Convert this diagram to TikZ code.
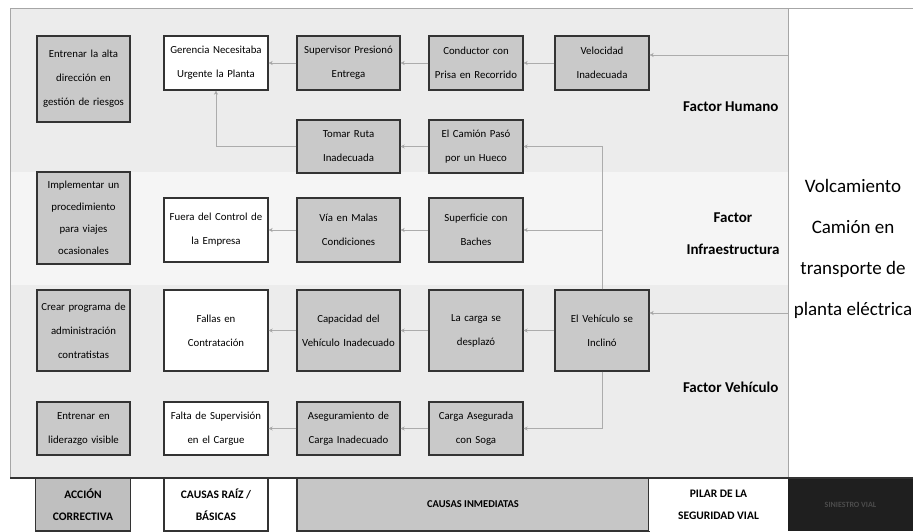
\documentclass[tikz,border=0pt]{standalone}
\usepackage{fontspec}
\setmainfont{Carlito}
\usetikzlibrary{arrows.meta}

\begin{document}
\begin{tikzpicture}[x=1pt,y=-1pt,
  caja/.style={draw=black!80,line width=1.4pt,fill=gray!42,align=center,
    font=\fontsize{10.8}{24}\selectfont,inner sep=1pt},
  raiz/.style={caja,fill=white},
  colA/.style={minimum width=93pt,text width=91pt},
  colB/.style={minimum width=104pt,text width=102pt},
  colC/.style={minimum width=103pt,text width=101pt},
  colD/.style={minimum width=94pt,text width=92pt},
  flecha/.style={draw=gray!65,line width=0.8pt,-{Stealth[length=4pt,width=4pt,fill=black!75]}},
  factor/.style={font=\fontsize{15}{32}\selectfont\bfseries,align=center},
  pie/.style={draw=black!80,line width=1.2pt,font=\fontsize{11.5}{22}\selectfont\bfseries,
    align=center,inner sep=0pt,minimum height=53pt}]
\useasboundingbox (0,0) rectangle (913,531);
\fill[white] (0,0) rectangle (913,531);
\fill[gray!15] (10,8) rectangle (788,478);
\fill[gray!8] (10,172) rectangle (788,285);
\draw[gray!70,line width=1pt] (10,478) -- (10,8) -- (913,8);
\draw[gray!70,line width=1pt] (788,8) -- (788,478);

\node[caja,colA,minimum height=86pt] (ac1) at (83.5,79) {Entrenar la alta\\dirección en\\gestión de riesgos};
\node[caja,colA,minimum height=92pt,font=\fontsize{10.8}{22}\selectfont] (ac2) at (83.5,218) {Implementar un\\procedimiento\\para viajes\\ocasionales};
\node[caja,colA,minimum height=81pt] (ac3) at (83.5,330.5) {Crear programa de\\administración\\contratistas};
\node[caja,colA,minimum height=53pt] (ac4) at (83.5,428.5) {Entrenar en\\liderazgo visible};

\node[raiz,colB,minimum height=54pt] (r1) at (216,63) {Gerencia Necesitaba\\Urgente la Planta};
\node[raiz,colB,minimum height=64pt] (r2) at (216,230) {Fuera del Control de\\la Empresa};
\node[raiz,colB,minimum height=81pt] (r3) at (216,330.5) {Fallas en\\Contratación};
\node[raiz,colB,minimum height=53pt] (r4) at (216,428.5) {Falta de Supervisión\\en el Cargue};

\node[caja,colC,minimum height=54pt] (i1) at (348.5,63) {Supervisor Presionó\\Entrega};
\node[caja,colC,minimum height=53pt] (i2) at (348.5,146.5) {Tomar Ruta\\Inadecuada};
\node[caja,colC,minimum height=64pt] (i3) at (348.5,230) {Vía en Malas\\Condiciones};
\node[caja,colC,minimum height=81pt] (i4) at (348.5,330.5) {Capacidad del\\Vehículo Inadecuado};
\node[caja,colC,minimum height=53pt] (i5) at (348.5,428.5) {Aseguramiento de\\Carga Inadecuado};

\node[caja,colD,minimum height=54pt] (c1) at (476,63) {Conductor con\\Prisa en Recorrido};
\node[caja,colD,minimum height=53pt] (c2) at (476,146.5) {El Camión Pasó\\por un Hueco};
\node[caja,colD,minimum height=64pt] (c3) at (476,230) {Superficie con\\Baches};
\node[caja,colD,minimum height=81pt] (c4) at (476,330.5) {La carga se\\desplazó};
\node[caja,colD,minimum height=53pt] (c5) at (476,428.5) {Carga Asegurada\\con Soga};

\node[caja,colD,minimum height=54pt] (v1) at (602,63) {Velocidad\\Inadecuada};
\node[caja,colD,minimum height=81pt] (v2) at (602,330.5) {El Vehículo se\\Inclinó};

\node[factor,anchor=east] (fh) at (782,107) {Factor Humano};
\node[factor] (fi) at (733,234) {Factor\\Infraestructura};
\node[factor,anchor=east] (fv) at (782,387) {Factor Vehículo};

\node[font=\fontsize{19}{41}\selectfont,align=center] (ev) at (853,249) {Volcamiento\\Camión en\\transporte de\\planta eléctrica};

\coordinate (eh) at (788,55);
\coordinate (ee) at (788,313);
\draw[flecha] (eh) -- (eh -| v1.east);
\draw[flecha] (v1) -- (c1);
\draw[flecha] (c1) -- (i1);
\draw[flecha] (i1) -- (r1);
\draw[flecha] (c2) -- (i2);
\draw[flecha] (i2.west) -| (r1.south);
\draw[flecha] (c3) -- (i3);
\draw[flecha] (i3) -- (r2);
\draw[flecha] (ee) -- (ee -| v2.east);
\draw[flecha] (v2) -- (c4);
\draw[flecha] (c4) -- (i4);
\draw[flecha] (i4) -- (r3);
\draw[flecha] (v2.north) |- (c2.east);
\draw[flecha] (v2.north) |- (c3.east);
\draw[flecha] (v2.south) |- (c5.east);
\draw[flecha] (c5) -- (i5);
\draw[flecha] (i5) -- (r4);

\node[pie,fill=gray!50,minimum width=95pt] (p1) at (83,504.5) {ACCIÓN\\CORRECTIVA};
\node[pie,fill=white,minimum width=104pt] (p2) at (216,504.5) {CAUSAS RAÍZ /\\BÁSICAS};
\node[pie,fill=gray!45,minimum width=352pt,font=\fontsize{10.5}{12}\selectfont\bfseries] (p3) at (473,504.5) {CAUSAS INMEDIATAS};
\node[pie,fill=white,draw=none,minimum width=139pt] (p4) at (718.5,504.5) {PILAR DE LA\\SEGURIDAD VIAL};
\node[pie,fill=black!88,draw=none,minimum width=125pt,text=black!70,font=\fontsize{8}{10}\selectfont\bfseries] (p5) at (850.5,504.5) {SINIESTRO VIAL};
\draw[black!80,line width=1.6pt] (10,478) -- (913,478);
\end{tikzpicture}
\end{document}
